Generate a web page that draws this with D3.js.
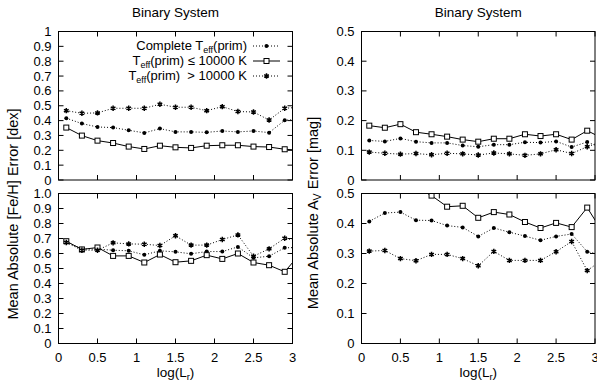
<!DOCTYPE html>
<html>
<head>
<meta charset="utf-8">
<script src="https://cdn.jsdelivr.net/npm/d3@7"></script>
<style>
  body { margin: 0; background: #fff; }
  svg { display: block; font-family: "Liberation Sans", Arial, sans-serif; }
</style>
</head>
<body>
<svg width="597" height="385"></svg>
<script>
// x positions of the bins (last one lies just past the frame and gets clipped)
const logL = [0.1, 0.3, 0.5, 0.7, 0.9, 1.1, 1.3, 1.5, 1.7, 1.9, 2.1, 2.3, 2.5, 2.7, 2.9, 3.1]

// [Fe/H], upper panel
const fehTopAll  = [0.416, 0.380, 0.357, 0.353, 0.335, 0.317, 0.346, 0.324, 0.324, 0.321, 0.330, 0.324, 0.330, 0.319, 0.402, 0.41]
const fehTopCool = [0.353, 0.299, 0.265, 0.249, 0.225, 0.209, 0.231, 0.220, 0.216, 0.231, 0.234, 0.234, 0.225, 0.222, 0.207, 0.20]
const fehTopHot  = [0.467, 0.449, 0.452, 0.483, 0.483, 0.483, 0.510, 0.490, 0.490, 0.467, 0.494, 0.461, 0.458, 0.404, 0.483, 0.49]

// [Fe/H], lower panel
const fehBotAll  = [0.678, 0.631, 0.629, 0.622, 0.618, 0.591, 0.618, 0.611, 0.598, 0.613, 0.613, 0.644, 0.571, 0.582, 0.638, 0.64]
const fehBotCool = [0.682, 0.627, 0.640, 0.584, 0.584, 0.540, 0.593, 0.542, 0.551, 0.589, 0.564, 0.600, 0.540, 0.522, 0.478, 0.60]
const fehBotHot  = [0.673, 0.622, 0.622, 0.671, 0.664, 0.662, 0.653, 0.718, 0.656, 0.656, 0.693, 0.724, 0.582, 0.631, 0.702, 0.68]

// A_V, upper panel
const avTopAll  = [0.133, 0.130, 0.140, 0.129, 0.125, 0.125, 0.116, 0.112, 0.119, 0.119, 0.127, 0.126, 0.130, 0.111, 0.128, 0.106]
const avTopCool = [0.183, 0.176, 0.188, 0.161, 0.154, 0.146, 0.136, 0.129, 0.139, 0.139, 0.154, 0.148, 0.154, 0.136, 0.166, 0.14]
const avTopHot  = [0.094, 0.090, 0.087, 0.089, 0.085, 0.090, 0.088, 0.084, 0.091, 0.088, 0.083, 0.088, 0.102, 0.089, 0.112, 0.13]

// A_V, lower panel
const avBotAll  = [0.407, 0.435, 0.438, 0.411, 0.410, 0.393, 0.387, 0.357, 0.385, 0.371, 0.358, 0.344, 0.357, 0.365, 0.306, 0.295]
const avBotCool = [0.56, 0.55, 0.56, 0.52, 0.493, 0.456, 0.459, 0.419, 0.438, 0.430, 0.405, 0.385, 0.402, 0.388, 0.453, 0.37]
const avBotHot  = [0.308, 0.310, 0.283, 0.276, 0.297, 0.297, 0.283, 0.259, 0.307, 0.277, 0.277, 0.277, 0.306, 0.340, 0.243, 0.28]

const fehTopTicks = ["0", "0.1", "0.2", "0.3", "0.4", "0.5", "0.6", "0.7", "0.8", "0.9", "1"]
const fehBotTicks = ["0", "0.1", "0.2", "0.3", "0.4", "0.5", "0.6", "0.7", "0.8", "0.9", "1.0"]
const avTicks = ["0", "0.1", "0.2", "0.3", "0.4", "0.5"]
const xTicks = ["0", "0.5", "1", "1.5", "2", "2.5", "3"]

const styles = {
    all:  { dash: "1,2", symbol: "circle" },
    cool: { dash: null,  symbol: "square" },
    hot:  { dash: "1,2", symbol: "star" }
}

const panels = [
    { left: 58.5, right: 292.5, top: 31.5, bottom: 180, ymax: 1, yTicks: fehTopTicks, xLabels: false, id: "c0",
      series: [["all", fehTopAll], ["cool", fehTopCool], ["hot", fehTopHot]] },
    { left: 58.5, right: 292.5, top: 193.5, bottom: 343.5, ymax: 1, yTicks: fehBotTicks, xLabels: true, id: "c1",
      series: [["all", fehBotAll], ["cool", fehBotCool], ["hot", fehBotHot]] },
    { left: 361.5, right: 595, top: 31.5, bottom: 180, ymax: 0.5, yTicks: avTicks, xLabels: false, id: "c2",
      series: [["all", avTopAll], ["cool", avTopCool], ["hot", avTopHot]] },
    { left: 361.5, right: 595, top: 193.5, bottom: 343.5, ymax: 0.5, yTicks: avTicks, xLabels: true, id: "c3",
      series: [["all", avBotAll], ["cool", avBotCool], ["hot", avBotHot]] }
]

const svg = d3.select("svg")
const defs = svg.append("defs")

function drawMarker(g, kind, x, y) {
    if (kind == "circle") {
        g.append("circle").attr("cx", x).attr("cy", y).attr("r", 2).attr("fill", "#000")
    } else if (kind == "square") {
        g.append("rect").attr("x", x - 2.5).attr("y", y - 2.5).attr("width", 5).attr("height", 5)
            .attr("fill", "#fff").attr("stroke", "#000").attr("stroke-width", 1)
    } else {
        g.append("path").attr("transform", `translate(${x},${y})`)
            .attr("d", d3.symbol(d3.symbolAsterisk, 20)())
            .attr("fill", "none").attr("stroke", "#000").attr("stroke-width", 1.5)
    }
}

panels.forEach(p => {
    const x = d3.scaleLinear().domain([0, 3]).range([p.left, p.right])
    const y = d3.scaleLinear().domain([0, p.ymax]).range([p.bottom, p.top])
    const g = svg.append("g")

    defs.append("clipPath").attr("id", p.id)
        .append("rect").attr("x", p.left).attr("y", p.top)
        .attr("width", p.right - p.left).attr("height", p.bottom - p.top)

    // ticks on all four sides, pointing inward
    const yVals = p.yTicks.map((t, i) => i * 0.1)
    yVals.forEach((v, i) => {
        g.append("line").attr("x1", p.left).attr("x2", p.left + 5).attr("y1", y(v)).attr("y2", y(v)).attr("stroke", "#000")
        g.append("line").attr("x1", p.right).attr("x2", p.right - 5).attr("y1", y(v)).attr("y2", y(v)).attr("stroke", "#000")
        g.append("text").attr("x", p.left - 7).attr("y", y(v) + 4.5)
            .attr("text-anchor", "end").attr("font-size", 13).text(p.yTicks[i])
    })
    xTicks.forEach((t, i) => {
        const v = i * 0.5
        g.append("line").attr("x1", x(v)).attr("x2", x(v)).attr("y1", p.bottom).attr("y2", p.bottom - 5).attr("stroke", "#000")
        g.append("line").attr("x1", x(v)).attr("x2", x(v)).attr("y1", p.top).attr("y2", p.top + 5).attr("stroke", "#000")
        if (p.xLabels) {
            g.append("text").attr("x", x(v)).attr("y", p.bottom + 18)
                .attr("text-anchor", "middle").attr("font-size", 13).text(t)
        }
    })

    const plot = g.append("g").attr("clip-path", `url(#${p.id})`)
    const line = d3.line().x((d, i) => x(logL[i])).y(d => y(d))

    p.series.forEach(([key, vals]) => {
        const st = styles[key]
        plot.append("path").attr("d", line(vals)).attr("fill", "none")
            .attr("stroke", "#000").attr("stroke-width", 1)
            .attr("stroke-dasharray", st.dash)
        vals.forEach((v, i) => drawMarker(plot, st.symbol, x(logL[i]), y(v)))
    })

    g.append("rect").attr("x", p.left).attr("y", p.top)
        .attr("width", p.right - p.left).attr("height", p.bottom - p.top)
        .attr("fill", "none").attr("stroke", "#000").attr("stroke-width", 1)

    if (p.xLabels) {
        const lab = g.append("text").attr("x", (p.left + p.right) / 2).attr("y", p.bottom + 33)
            .attr("text-anchor", "middle").attr("font-size", 13.5)
        lab.append("tspan").text("log(L")
        lab.append("tspan").attr("font-size", 9.5).attr("dy", 3).text("r")
        lab.append("tspan").attr("dy", -3).text(")")
    } else {
        g.append("text").attr("x", (p.left + p.right) / 2).attr("y", 17)
            .attr("text-anchor", "middle").attr("font-size", 13.5).text("Binary System")
    }
})

// y axis titles
const yl = svg.append("text").attr("transform", "translate(18,214) rotate(-90)")
    .attr("text-anchor", "middle").attr("font-size", 14.5)
    .text("Mean Absolute [Fe/H] Error [dex]")

const yr = svg.append("text").attr("transform", "translate(318,213) rotate(-90)")
    .attr("text-anchor", "middle").attr("font-size", 14.5)
yr.append("tspan").text("Mean Absolute A")
yr.append("tspan").attr("font-size", 10.5).attr("dy", 3).text("V")
yr.append("tspan").attr("dy", -3).text(" Error [mag]")

// legend in the upper left panel
const legend = [
    ["all", "Complete T", "(prim)"],
    ["cool", "T", "(prim) \u2264 10000 K"],
    ["hot", "T", "(prim)  > 10000 K"]
]
const lg = svg.append("g")
legend.forEach(([key, a, b], i) => {
    const ly = 46 + i * 15
    const t = lg.append("text").attr("x", 247).attr("y", ly + 4)
        .attr("text-anchor", "end").attr("font-size", 13).attr("xml:space", "preserve")
    t.append("tspan").text(a)
    t.append("tspan").attr("font-size", 9).attr("dy", 2.5).text("eff")
    t.append("tspan").attr("dy", -2.5).text(b)
    lg.append("line").attr("x1", 253).attr("x2", 280).attr("y1", ly).attr("y2", ly)
        .attr("stroke", "#000").attr("stroke-dasharray", styles[key].dash)
    drawMarker(lg, styles[key].symbol, 266.5, ly)
})
</script>
</body>
</html>
